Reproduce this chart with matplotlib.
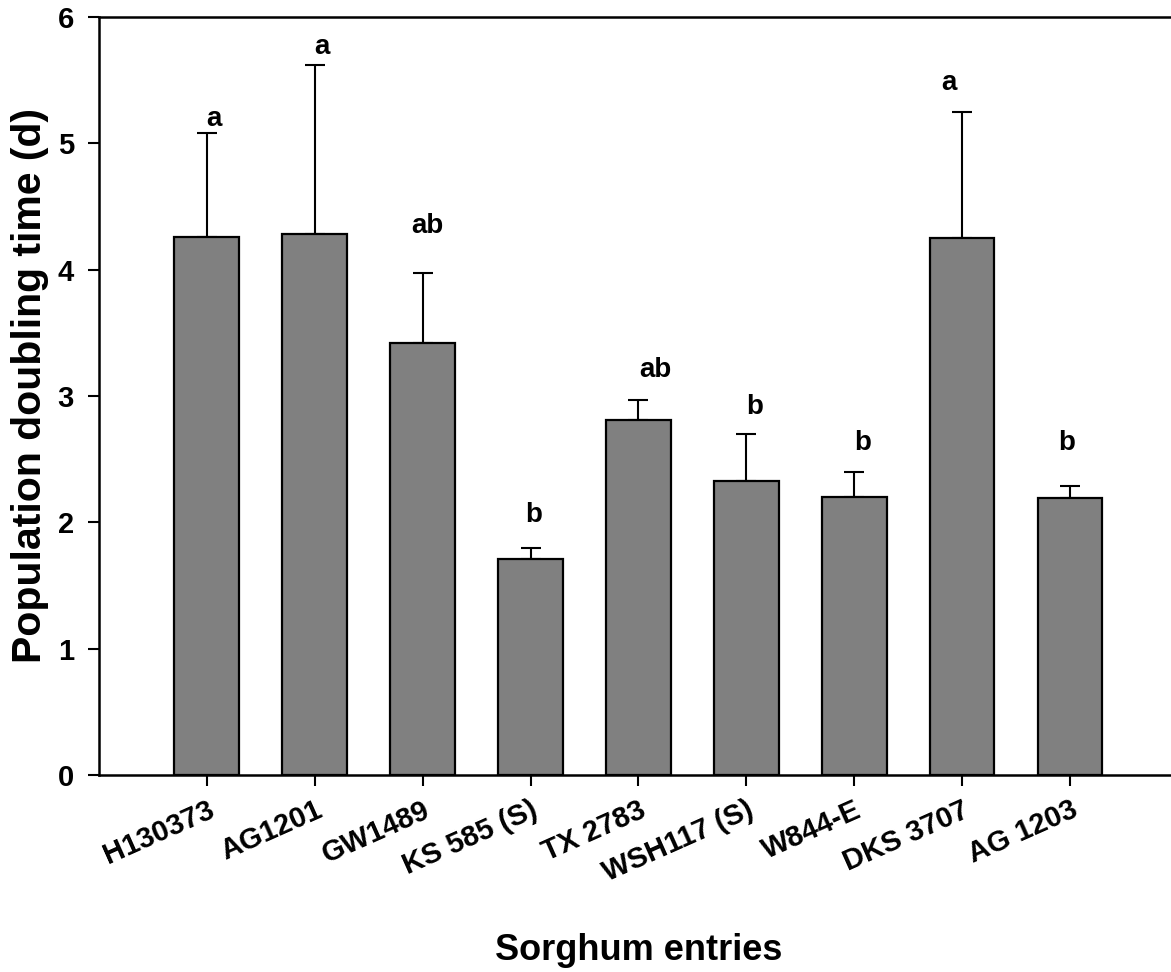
#Tiempo de duplicacion por entrada de sorgo
import numpy as np
import matplotlib
matplotlib.use('Agg')
import matplotlib.pyplot as plt

entries = ['H130373', 'AG1201', 'GW1489', 'KS 585 (S)', 'TX 2783',
           'WSH117 (S)', 'W844-E', 'DKS 3707', 'AG 1203']
doubling_time = [4.26, 4.28, 3.42, 1.71, 2.81, 2.33, 2.20, 4.25, 2.19]
error_top = [5.08, 5.62, 3.97, 1.80, 2.97, 2.70, 2.40, 5.25, 2.29]
letters = ['a', 'a', 'ab', 'b', 'ab', 'b', 'b', 'a', 'b']
letter_y = [5.14, 5.71, 4.29, 2.00, 3.15, 2.86, 2.57, 5.42, 2.57]
letter_dx = [0.065, 0.07, 0.04, 0.03, 0.16, 0.08, 0.08, -0.12, -0.035]

plt.rcParams['font.family'] = ['Liberation Sans', 'DejaVu Sans']
plt.rcParams['font.weight'] = 'bold'

fig = plt.figure(figsize=(11.71, 9.72), dpi=100)
ax = fig.add_axes([0.0845, 0.2027, 0.9214, 0.7798])

x = np.arange(len(entries))
yerr = np.array(error_top) - np.array(doubling_time)
ax.bar(x, doubling_time, width=0.6, color='#808080', edgecolor='black', linewidth=1.6, zorder=2)
ax.errorbar(x, doubling_time, yerr=[np.zeros(len(x)), yerr], fmt='none',
            ecolor='black', elinewidth=1.5, capsize=7.5, capthick=1.5, zorder=1)

for i in range(len(x)):
    ax.text(x[i] + letter_dx[i], letter_y[i], letters[i], ha='center', va='baseline',
            fontsize=20, fontweight='bold')

ax.set_xlim(-1, 9)
ax.set_ylim(0, 6)
ax.set_yticks([0, 1, 2, 3, 4, 5, 6])
ax.set_xticks(x)
ax.set_xticklabels(entries, rotation=24, ha='right', va='top', rotation_mode='anchor')
ax.tick_params(axis='both', direction='out', length=8, width=1.5, labelsize=21)
ax.tick_params(axis='y', pad=10)
ax.tick_params(axis='x', pad=7)
for lab in ax.get_xticklabels() + ax.get_yticklabels():
    lab.set_fontweight('bold')

for s in ['left', 'bottom', 'top']:
    ax.spines[s].set_linewidth(1.8)
ax.spines['right'].set_visible(False)

ax.set_ylabel('Population doubling time (d)', fontsize=29.5, fontweight='bold', va='center')
ax.yaxis.set_label_coords(-0.064, 0.514)
ax.set_xlabel('Sorghum entries', fontsize=26, fontweight='bold', va='baseline')
ax.xaxis.set_label_coords(0.5, -0.244)

fig.savefig('out.png', dpi=100)
